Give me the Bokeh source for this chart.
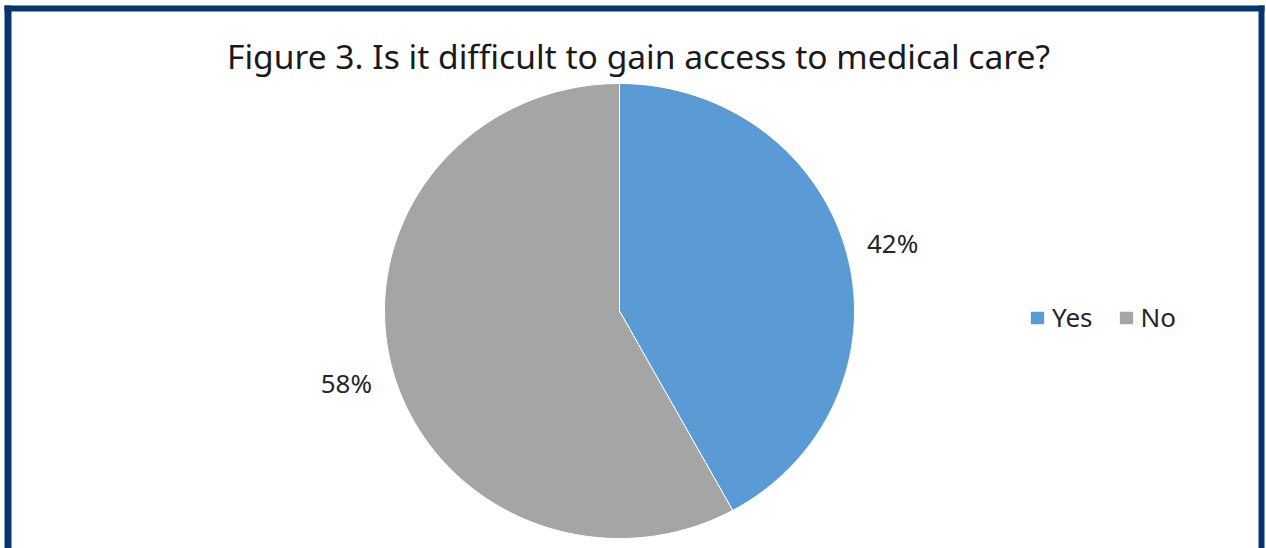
import numpy as np
from bokeh.plotting import figure
from bokeh.models import Range1d, Legend, LegendItem, Label, BoxAnnotation
from bokeh.embed import file_html
from bokeh.resources import INLINE

# ---- data ----
categories = ["Yes", "No"]
percents = [42, 58]
colors = ["#5B9BD5", "#A5A5A5"]
title_text = "Figure 3. Is it difficult to gain access to medical care?"

W, H = 1266, 548
p = figure(width=W, height=H, output_backend="svg", toolbar_location=None,
           x_range=Range1d(0, W), y_range=Range1d(0, H),
           min_border=0, outline_line_color=None)
p.axis.visible = False
p.grid.visible = False
p.background_fill_color = "white"
p.border_fill_color = "white"

# border (decor): left, right, top
border_col = "#06346C"
for l, r_, t_, b_ in [(4, 11, H - 5, 0), (4, 1264, H - 5, H - 11), (1258, 1264, H - 5, 0)]:
    p.add_layout(BoxAnnotation(left=l, right=r_, top=t_, bottom=b_, fill_color=border_col,
                               fill_alpha=1, line_color=None))

# pie (slightly elliptical, like the original)
cx, cy = 619, 237.5
rx, ry = 235, 227.5
fr = np.array(percents, dtype=float) / sum(percents)
cum = np.concatenate([[0], np.cumsum(fr)])
renderers = []
for i, cat in enumerate(categories):
    a0 = np.pi / 2 - 2 * np.pi * cum[i]
    a1 = np.pi / 2 - 2 * np.pi * cum[i + 1]
    t = np.linspace(a0, a1, 200)
    xs = np.concatenate([[cx], cx + rx * np.cos(t), [cx]])
    ys = np.concatenate([[cy], cy + ry * np.sin(t), [cy]])
    r = p.patch(xs, ys, fill_color=colors[i], line_color="white", line_width=1)
    renderers.append(r)
    mid = (a0 + a1) / 2
    lr = 282
    p.add_layout(Label(x=cx + lr * np.cos(mid), y=cy + lr * np.sin(mid) - 2,
                       text=f"{percents[i]}%", text_align="center", text_baseline="middle",
                       text_font="Noto Sans", text_font_size="26px", text_color="#262626"))

# title
p.add_layout(Label(x=638, y=493, text=title_text, text_align="center",
                   text_baseline="alphabetic", text_font="Noto Sans",
                   text_font_size="33.6px", text_color="#1a1a1a"))

legend = Legend(items=[LegendItem(label=c, renderers=[r]) for c, r in zip(categories, renderers)],
                location=(1028, 213), orientation="horizontal",
                glyph_width=18, glyph_height=17, label_standoff=6, spacing=24,
                padding=0, margin=0, border_line_color=None, background_fill_alpha=0,
                label_text_font="Noto Sans", label_text_font_size="26px",
                label_text_color="#262626")
p.add_layout(legend)

open("out.html", "w").write(file_html(p, INLINE))
